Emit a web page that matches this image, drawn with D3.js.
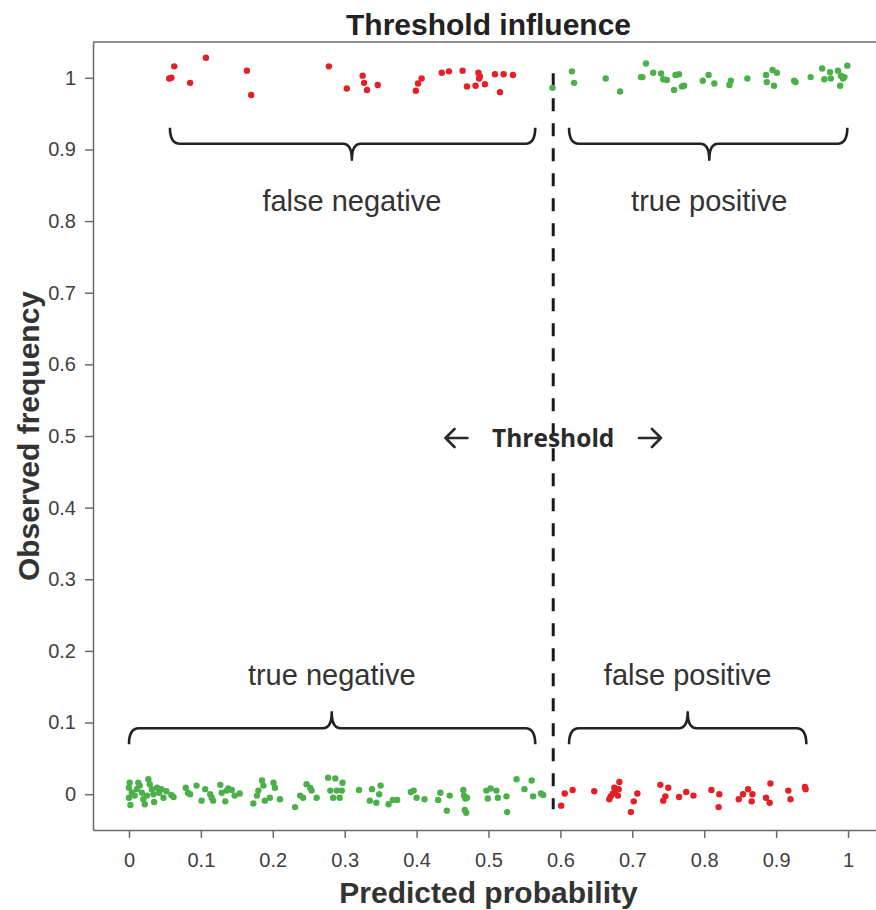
<!DOCTYPE html>
<html>
<head>
<meta charset="utf-8">
<script src="https://cdn.jsdelivr.net/npm/d3@7"></script>
<style>
  html, body { margin: 0; padding: 0; background: #fff; }
  svg { display: block; }
</style>
</head>
<body>
<svg id="chart" width="876" height="910"></svg>
<script>
// ---- Data ----
const xTicks = [0, 0.1, 0.2, 0.3, 0.4, 0.5, 0.6, 0.7, 0.8, 0.9, 1];
const yTicks = [0, 0.1, 0.2, 0.3, 0.4, 0.5, 0.6, 0.7, 0.8, 0.9, 1];
const threshold = 0.59;

// false negatives (observed 1, predicted below threshold) - red
const falseNegX = [0.056,0.059,0.063,0.085,0.107,0.164,0.170,0.278,0.303,0.325,0.327,0.331,0.346,0.399,0.402,0.407,0.435,0.445,0.464,0.470,0.482,0.486,0.487,0.488,0.495,0.509,0.516,0.521,0.534];
const falseNegY = [0.999,1.000,1.016,0.993,1.028,1.010,0.976,1.016,0.985,1.003,0.993,0.983,0.990,0.982,0.992,0.999,1.007,1.009,1.010,0.988,0.989,1.007,0.999,1.002,0.991,1.005,0.980,1.005,1.004];

// true positives (observed 1, predicted above threshold) - green
const truePosX = [0.589,0.616,0.619,0.663,0.683,0.712,0.714,0.719,0.729,0.740,0.743,0.748,0.758,0.760,0.765,0.769,0.772,0.798,0.806,0.814,0.835,0.837,0.860,0.886,0.887,0.895,0.897,0.901,0.925,0.927,0.948,0.964,0.967,0.975,0.976,0.986,0.989,0.990,0.993,0.995,0.999];
const truePosY = [0.986,1.009,0.993,0.999,0.981,1.001,1.001,1.020,1.007,1.006,0.998,0.997,0.983,1.004,1.005,0.988,0.989,0.996,1.004,0.992,0.990,0.996,0.999,1.004,0.994,1.011,0.989,1.007,0.996,0.994,1.001,1.013,0.998,1.008,0.999,1.010,0.989,1.003,0.999,1.001,1.017];

// true negatives (observed 0, predicted below threshold) - green
const trueNegX = [0.001,0.000,0.004,0.000,0.002,0.008,0.011,0.013,0.015,0.018,0.020,0.022,0.025,0.027,0.029,0.032,0.034,0.035,0.039,0.042,0.045,0.048,0.052,0.059,0.062,0.079,0.082,0.085,0.094,0.101,0.106,0.113,0.115,0.117,0.127,0.129,0.134,0.136,0.138,0.143,0.147,0.154,0.173,0.178,0.180,0.185,0.187,0.189,0.196,0.201,0.203,0.210,0.231,0.238,0.242,0.247,0.252,0.254,0.261,0.277,0.287,0.280,0.284,0.289,0.296,0.293,0.297,0.320,0.335,0.338,0.344,0.348,0.350,0.361,0.367,0.373,0.392,0.396,0.400,0.411,0.430,0.433,0.442,0.446,0.465,0.466,0.468,0.470,0.467,0.469,0.497,0.499,0.503,0.511,0.513,0.525,0.526,0.539,0.550,0.560,0.562,0.573,0.576];
const trueNegY = [0.016,0.009,0.002,-0.005,-0.015,-0.002,0.007,0.016,0.012,0.002,-0.007,-0.014,-0.002,0.021,0.014,0.007,0.000,-0.011,0.009,0.002,0.007,-0.005,0.004,-0.001,-0.004,0.009,0.002,0.000,0.012,-0.009,0.007,0.000,-0.005,-0.009,0.013,0.002,-0.010,0.005,0.008,0.006,-0.002,0.001,-0.013,-0.002,0.005,0.019,0.012,-0.009,-0.005,0.016,0.009,-0.007,-0.018,-0.002,-0.005,0.014,0.009,0.005,-0.005,0.023,0.022,0.005,-0.005,0.005,0.005,-0.005,0.016,0.006,-0.009,0.007,-0.012,0.000,0.012,-0.014,-0.008,-0.008,0.003,0.005,-0.005,-0.007,-0.008,0.002,-0.023,-0.002,0.006,-0.002,-0.006,-0.005,-0.022,-0.026,0.005,-0.006,0.008,0.005,-0.005,-0.003,-0.025,0.021,0.007,0.019,-0.003,0.001,-0.001];

// false positives (observed 0, predicted above threshold) - red
const falsePosX = [0.601,0.606,0.617,0.647,0.668,0.670,0.673,0.675,0.677,0.680,0.682,0.681,0.698,0.702,0.707,0.739,0.743,0.746,0.750,0.765,0.775,0.785,0.810,0.821,0.820,0.848,0.854,0.861,0.867,0.866,0.886,0.891,0.892,0.917,0.920,0.940,0.941];
const falsePosY = [-0.016,0.001,0.006,0.004,-0.007,-0.003,0.001,0.009,0.005,-0.002,0.017,0.007,-0.025,-0.010,0.001,0.013,-0.009,-0.003,0.009,-0.004,0.003,-0.002,0.006,0.000,-0.018,-0.007,0.000,0.007,0.000,-0.010,-0.005,-0.012,0.015,0.005,-0.007,0.010,0.007];

// brace annotations (data units)
const braceLabels = ["false negative", "true positive", "true negative", "false positive"];
const braceStart  = [0.057, 0.612, 0.0, 0.612];
const braceEnd    = [0.565, 0.999, 0.565, 0.942];
const braceTip    = [0.310, 0.807, 0.282, 0.777];
const braceLevel  = [0.908, 0.908, 0.092, 0.092];
const braceLabelY = [0.814, 0.814, 0.152, 0.152];
const braceUp     = [true, true, false, false]; // ends point up, tip down

// ---- Chart ----
const svg = d3.select("#chart");
const RED = "#e41f26", GREEN = "#4bb04a";
const x = d3.scaleLinear().domain([-0.05, 1.05]).range([93, 884]);
const y = d3.scaleLinear().domain([-0.05, 1.05]).range([830, 42]);

const fmt = d => d3.format("~g")(d);
const tickFont = "'Liberation Sans', Arial, sans-serif";

// axes
const gx = svg.append("g").attr("transform", `translate(0,${y(-0.05)})`)
  .call(d3.axisBottom(x).tickValues(xTicks).tickFormat(fmt).tickSize(8).tickPadding(10).tickSizeOuter(0));
const gy = svg.append("g").attr("transform", `translate(${x(-0.05)},0)`)
  .call(d3.axisLeft(y).tickValues(yTicks).tickFormat(fmt).tickSize(8).tickPadding(9).tickSizeOuter(0));
[gx, gy].forEach(g => {
  g.selectAll(".domain").attr("stroke", "#6a6a6a").attr("stroke-width", 1.5);
  g.selectAll(".tick line").attr("stroke", "#6a6a6a").attr("stroke-width", 1.5);
  g.selectAll(".tick text").attr("fill", "#404040").style("font-family", tickFont).style("font-size", "20px");
});
gx.selectAll(".tick text").attr("dy", "0.95em");
// top border
svg.append("line").attr("x1", x(-0.05)).attr("x2", x(1.05)).attr("y1", y(1.05)).attr("y2", y(1.05))
  .attr("stroke", "#6a6a6a").attr("stroke-width", 1.5);

// threshold line
svg.append("line")
  .attr("x1", x(threshold)).attr("x2", x(threshold))
  .attr("y1", y(1.0065)).attr("y2", y(-0.021))
  .attr("stroke", "#1a1a1a").attr("stroke-width", 3)
  .attr("stroke-dasharray", "13,12");

// points
function pts(xs, ys, color) {
  svg.append("g").selectAll("circle").data(xs.map((v, i) => [v, ys[i]])).join("circle")
    .attr("cx", d => x(d[0])).attr("cy", d => y(d[1])).attr("r", 3.2).attr("fill", color);
}
pts(falseNegX, falseNegY, RED);
pts(truePosX, truePosY, GREEN);
pts(trueNegX, trueNegY, GREEN);
pts(falsePosX, falsePosY, RED);

// braces
braceLabels.forEach((lab, i) => {
  const x1 = x(braceStart[i]), x2 = x(braceEnd[i]), xm = x(braceTip[i]), yL = y(braceLevel[i]);
  const s = braceUp[i] ? -1 : 1;
  const yE = yL + s * 16, yT = yL - s * 16, r = 10, rt = 9;
  const p = d3.path();
  p.moveTo(x1, yE);
  p.quadraticCurveTo(x1, yL, x1 + r, yL);
  p.lineTo(xm - rt, yL);
  p.quadraticCurveTo(xm, yL, xm, yT);
  p.quadraticCurveTo(xm, yL, xm + rt, yL);
  p.lineTo(x2 - r, yL);
  p.quadraticCurveTo(x2, yL, x2, yE);
  svg.append("path").attr("d", p.toString()).attr("fill", "none")
    .attr("stroke", "#222").attr("stroke-width", 2.6).attr("stroke-linejoin", "round");
  svg.append("text").attr("x", xm).attr("y", y(braceLabelY[i]))
    .attr("text-anchor", "middle").attr("fill", "#333")
    .style("font-family", tickFont).style("font-size", "29px").text(lab);
});

// threshold label
const ty = y(0.5), tx = x(threshold);
svg.append("text").attr("x", tx).attr("y", ty + 11).attr("text-anchor", "middle")
  .attr("fill", "#2a2a2a").style("font-family", "'Open Sans', 'Noto Sans', sans-serif")
  .style("font-weight", "bold").style("font-size", "24.5px").text("Threshold");
// arrows
const xl = x(0.4555), xr = x(0.7245), aw = 11, ah = 9, cy = ty + 2;
const arrow = d3.path();
arrow.moveTo(xl + aw, cy); arrow.lineTo(xl - aw, cy);
arrow.moveTo(xl - aw + ah, cy - ah); arrow.lineTo(xl - aw, cy); arrow.lineTo(xl - aw + ah, cy + ah);
arrow.moveTo(xr - aw, cy); arrow.lineTo(xr + aw, cy);
arrow.moveTo(xr + aw - ah, cy - ah); arrow.lineTo(xr + aw, cy); arrow.lineTo(xr + aw - ah, cy + ah);
svg.append("path").attr("d", arrow.toString()).attr("fill", "none")
  .attr("stroke", "#2a2a2a").attr("stroke-width", 2.6).attr("stroke-linecap", "round").attr("stroke-linejoin", "round");

// title and axis labels
svg.append("text").attr("x", (x(-0.05) + x(1.05)) / 2).attr("y", 35).attr("text-anchor", "middle")
  .attr("fill", "#222").style("font-family", tickFont).style("font-weight", "bold")
  .style("font-size", "30px").text("Threshold influence");
svg.append("text").attr("x", (x(-0.05) + x(1.05)) / 2).attr("y", 903).attr("text-anchor", "middle")
  .attr("fill", "#333").style("font-family", tickFont).style("font-weight", "bold")
  .style("font-size", "30px").text("Predicted probability");
svg.append("text").attr("transform", `translate(39,${(y(-0.05) + y(1.05)) / 2}) rotate(-90)`)
  .attr("text-anchor", "middle")
  .attr("fill", "#333").style("font-family", tickFont).style("font-weight", "bold")
  .style("font-size", "30px").text("Observed frequency");
</script>
</body>
</html>
